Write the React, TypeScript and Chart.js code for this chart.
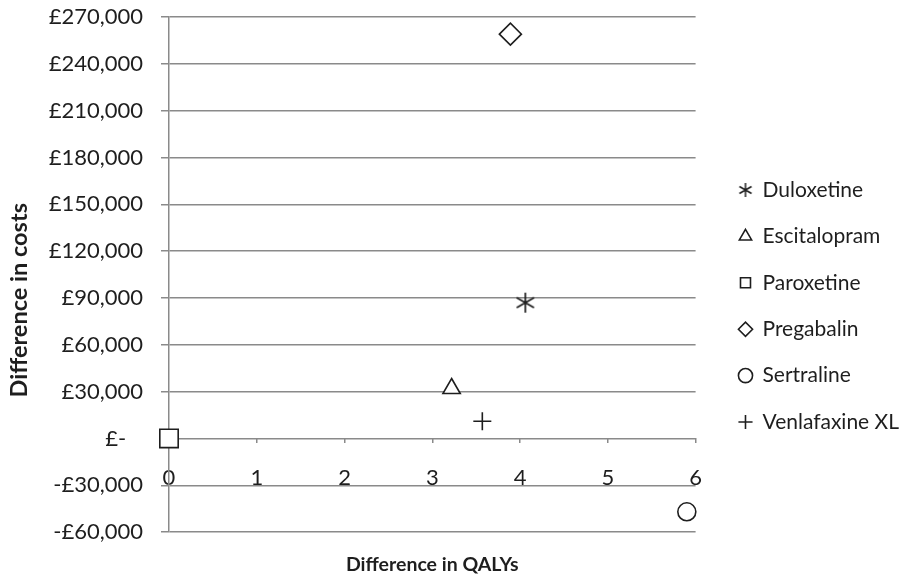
import React, { useEffect, useRef } from 'react';
import { Chart, registerables } from 'chart.js';

Chart.register(...registerables);

// ---- data ----
const seriesNames = ['Duloxetine', 'Escitalopram', 'Paroxetine', 'Pregabalin', 'Sertraline', 'Venlafaxine XL'];
const qalyDiff = [4.06, 3.22, 0, 3.89, 5.9, 3.57];
const costDiff = [87000, 32000, 0, 259000, -47000, 11000];
const xTickValues = [0, 1, 2, 3, 4, 5, 6];
const yTickValues = [-60000, -30000, 0, 30000, 60000, 90000, 120000, 150000, 180000, 210000, 240000, 270000];
const yTickLabels = ['-£60,000', '-£30,000', '£-   ', '£30,000', '£60,000', '£90,000', '£120,000', '£150,000', '£180,000', '£210,000', '£240,000', '£270,000'];
const xTitle = 'Difference in QALYs';
const yTitle = 'Difference in costs';

// ---- styles ----
const INK = '#1e1e1e';
const GRID = '#8a8a8a';
const FONT = 'Lato';

function makeAsterisk(size: number, lw: number): HTMLCanvasElement {
  const c = document.createElement('canvas');
  c.width = size;
  c.height = size;
  const ctx = c.getContext('2d')!;
  const r = size / 2 - 1;
  const cx = size / 2;
  const cy = size / 2;
  ctx.strokeStyle = INK;
  ctx.lineWidth = lw;
  ctx.beginPath();
  for (const deg of [90, 30, 150]) {
    const a = (deg * Math.PI) / 180;
    ctx.moveTo(cx - Math.cos(a) * r, cy - Math.sin(a) * r);
    ctx.lineTo(cx + Math.cos(a) * r, cy + Math.sin(a) * r);
  }
  ctx.stroke();
  return c;
}

export default function App() {
  const ref = useRef<HTMLCanvasElement | null>(null);

  useEffect(() => {
    if (!ref.current) return;
    const bigAst = makeAsterisk(22, 1.7);
    const smallAst = makeAsterisk(16, 1.5);
    const styles: any[] = [bigAst, 'triangle', 'rect', 'rectRot', 'circle', 'cross'];
    const radii = [10, 10, 13, 11, 9, 9];

    // shift the rotated y title downward (its centre sits below the plot centre)
    const mctx = document.createElement('canvas').getContext('2d')!;
    mctx.font = `bold 23.5px ${FONT}`;
    const spaceW = mctx.measureText(' ').width || 4.5;
    const nSpaces = Math.round(52 / spaceW);
    const yTitleText = yTitle + ' '.repeat(nSpaces);

    const datasets = seriesNames.map((name, i) => ({
      label: name,
      data: [{ x: qalyDiff[i], y: costDiff[i] }],
      pointStyle: styles[i],
      pointRadius: radii[i],
      pointHoverRadius: radii[i],
      pointBorderWidth: 1.6,
      pointBorderColor: INK,
      pointBackgroundColor: '#ffffff',
      borderColor: INK,
      backgroundColor: '#ffffff',
      showLine: false,
      clip: false as any,
      xAxisID: 'x',
      yAxisID: 'y',
    }));

    const tickFont = { family: FONT, size: 22 };

    const chart = new Chart(ref.current, {
      type: 'scatter',
      data: { datasets },
      options: {
        responsive: false,
        animation: false,
        layout: { padding: { top: 17, right: -8, bottom: 0, left: 0 } },
        plugins: {
          tooltip: { enabled: false },
          legend: {
            position: 'right',
            align: 'center',
            maxWidth: 320,
            title: { display: true, text: '', padding: 0, font: { size: 19, lineHeight: 1 } },
            labels: {
              usePointStyle: true,
              boxWidth: 13,
              boxHeight: 10,
              padding: 25.4,
              color: INK,
              font: { family: FONT, size: 21 },
              generateLabels: (c: any) => {
                const items = (Chart.defaults.plugins.legend.labels as any).generateLabels(c);
                items.forEach((it: any) => {
                  if (it.datasetIndex === 0) it.pointStyle = smallAst;
                });
                return items;
              },
            },
          },
        },
        scales: {
          x: {
            type: 'linear',
            position: 'bottom',
            min: 0,
            max: 6,
            ticks: { display: false },
            grid: { display: false, drawTicks: false },
            border: { display: false },
            title: {
              display: true,
              text: xTitle,
              color: INK,
              font: { family: FONT, size: 19.5, weight: 'bold' },
              padding: { top: 20.5, bottom: 0 },
            },
          },
          x2: {
            type: 'linear',
            axis: 'x',
            position: { y: 0 } as any,
            min: 0,
            max: 6,
            afterBuildTicks: (s: any) => {
              s.ticks = xTickValues.map((v) => ({ value: v }));
            },
            ticks: { color: INK, font: tickFont, padding: 21 },
            grid: { display: true, drawOnChartArea: false, drawTicks: true, tickLength: 5, color: GRID, lineWidth: 1.5 },
            border: { display: false },
          },
          y: {
            type: 'linear',
            position: 'left',
            min: -60000,
            max: 270000,
            afterBuildTicks: (s: any) => {
              s.ticks = yTickValues.map((v) => ({ value: v }));
            },
            afterFit: (s: any) => {
              s.width = 169;
            },
            ticks: {
              color: INK,
              font: tickFont,
              padding: 0,
              callback: (v: any) => yTickLabels[yTickValues.indexOf(Number(v))],
            },
            grid: {
              color: GRID,
              lineWidth: 1.5,
              tickLength: 26,
              tickBorderDash: [8, 18],
              tickBorderDashOffset: 8,
            },
            border: { display: true, color: GRID, width: 1.5 },
            title: {
              display: true,
              text: yTitleText,
              color: INK,
              font: { family: FONT, size: 23.5, weight: 'bold' },
              padding: { top: 5, bottom: 0 },
            },
          },
          y2: {
            type: 'linear',
            axis: 'y',
            position: 'right',
            display: true,
            ticks: { display: false },
            grid: { display: false, drawTicks: false },
            border: { display: false },
            afterFit: (s: any) => {
              s.width = 18;
            },
          },
        },
      } as any,
    });
    return () => chart.destroy();
  }, []);

  return (
    <div style={{ position: 'absolute', left: 0, top: 0, width: 901, height: 576, background: '#fff' }}>
      <canvas ref={ref} width={901} height={576} style={{ display: 'block' }} />
    </div>
  );
}
